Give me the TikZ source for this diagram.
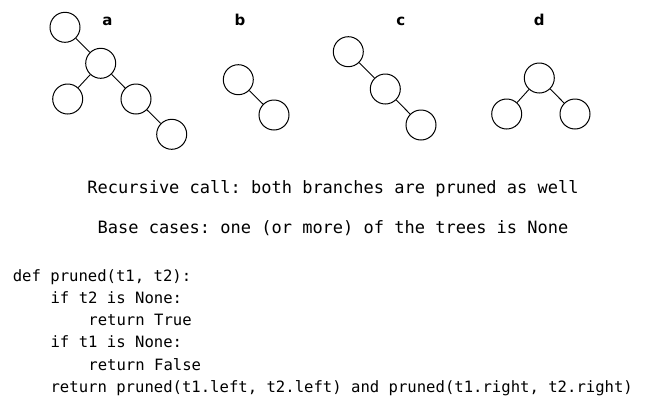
\documentclass[tikz,border=0pt]{standalone}
\usepackage{fontspec}
\setmainfont{DejaVu Sans}
\setmonofont{DejaVu Sans Mono}
\begin{document}
\begin{tikzpicture}[x=1pt,y=-1pt,
  tnode/.style={circle,draw,line width=1pt,minimum size=30pt,inner sep=0pt},
  edge/.style={line width=0.9pt},
  lbl/.style={anchor=base,font=\fontsize{15}{18}\selectfont\bfseries},
  heading/.style={anchor=base,font=\fontsize{17}{20}\selectfont\ttfamily},
  code/.style={anchor=base west,inner sep=0pt,font=\fontsize{15.6}{18}\selectfont\ttfamily}]
\useasboundingbox (0,0) rectangle (649,397);

% tree a
\node[tnode] (a1) at (65,27.3) {};
\node[tnode] (a2) at (100.7,63.3) {};
\node[tnode] (a3) at (67.7,99) {};
\node[tnode] (a4) at (136,99) {};
\node[tnode] (a5) at (171.7,134.3) {};
\draw[edge] (a1) -- (a2);
\draw[edge] (a2) -- (a3);
\draw[edge] (a2) -- (a4);
\draw[edge] (a4) -- (a5);
\node[lbl] (la) at (107.5,25.5) {a};

% tree b
\node[tnode] (b1) at (238.3,79.7) {};
\node[tnode] (b2) at (274,115) {};
\draw[edge] (b1) -- (b2);
\node[lbl] (lb) at (240,25.5) {b};

% tree c
\node[tnode] (c1) at (348.3,51.7) {};
\node[tnode] (c2) at (385.3,89) {};
\node[tnode] (c3) at (421,125) {};
\draw[edge] (c1) -- (c2);
\draw[edge] (c2) -- (c3);
\node[lbl] (lc) at (400.7,25.5) {c};

% tree d
\node[tnode] (d1) at (539.3,78) {};
\node[tnode] (d2) at (506.7,114) {};
\node[tnode] (d3) at (575,114) {};
\draw[edge] (d1) -- (d2);
\draw[edge] (d1) -- (d3);
\node[lbl] (ld) at (539.3,25.5) {d};

% captions
\node[heading] (h1) at (333,193.5) {Recursive call: both branches are pruned as well};
\node[heading] (h2) at (333,233.5) {Base cases: one (or more) of the trees is None};

% code listing
\node[code] (l1) at (12.6,281) {def pruned(t1, t2):};
\node[code] (l2) at (50.4,303.3) {if t2 is None:};
\node[code] (l3) at (88.2,325.6) {return True};
\node[code] (l4) at (50.4,347.9) {if t1 is None:};
\node[code] (l5) at (88.2,370.2) {return False};
\node[code] (l6) at (50.4,392.5) {return pruned(t1.left, t2.left) and pruned(t1.right, t2.right)};
\end{tikzpicture}
\end{document}
